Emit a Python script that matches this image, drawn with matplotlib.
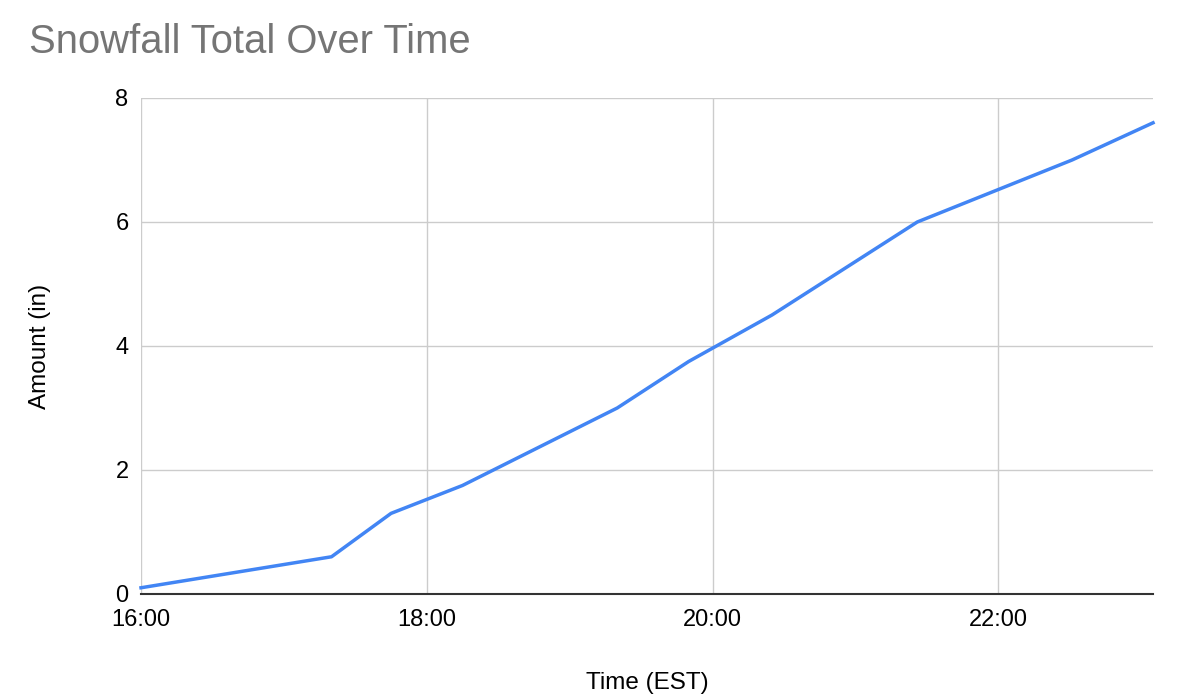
import matplotlib
matplotlib.use("Agg")
import matplotlib.pyplot as plt
import matplotlib.dates as mdates
import pandas as pd

# readings taken from the chart
times = ["16:00", "17:20", "17:45", "18:15", "19:20", "19:50",
         "20:25", "21:26", "22:31", "23:05"]
amounts = [0.1, 0.6, 1.3, 1.75, 3.0, 3.75, 4.5, 6.0, 7.0, 7.6]
y_ticks = [0, 2, 4, 6, 8]
x_ticks = ["16:00", "18:00", "20:00", "22:00"]

plt.rcParams["font.family"] = ["Liberation Sans", "DejaVu Sans"]

t = pd.to_datetime(["2024-01-01 " + s for s in times])
xt = pd.to_datetime(["2024-01-01 " + s for s in x_ticks])

fig = plt.figure(figsize=(11.86, 6.96), dpi=100)
ax = fig.add_axes([0.1189, 0.1466, 0.8533, 0.7126])

ax.plot(t, amounts, color="#4285F4", linewidth=2.5, solid_joinstyle="round",
        clip_on=False, zorder=3)

ax.set_xlim(t[0], t[-1])
ax.set_ylim(0, 8)
ax.set_yticks(y_ticks)
ax.set_xticks(xt)
ax.xaxis.set_major_formatter(mdates.DateFormatter("%H:%M"))

ax.grid(True, color="#cccccc", linewidth=1.0)
ax.set_axisbelow(True)
for side in ["top", "right", "left"]:
    ax.spines[side].set_visible(False)
ax.spines["bottom"].set_color("#333333")
ax.spines["bottom"].set_linewidth(1.5)
ax.spines["bottom"].set_zorder(4)

ax.tick_params(axis="both", length=0, labelsize=17, colors="#000000")
ax.tick_params(axis="x", pad=11)
ax.tick_params(axis="y", pad=9)

ax.set_xlabel("Time (EST)", fontsize=17.5, labelpad=29)
ax.set_ylabel("Amount (in)", fontsize=17.5, labelpad=46)

fig.text(0.0245, 0.94, "Snowfall Total Over Time", fontsize=28.8,
         color="#757575", ha="left", va="center")

fig.savefig("out.png", dpi=100)
